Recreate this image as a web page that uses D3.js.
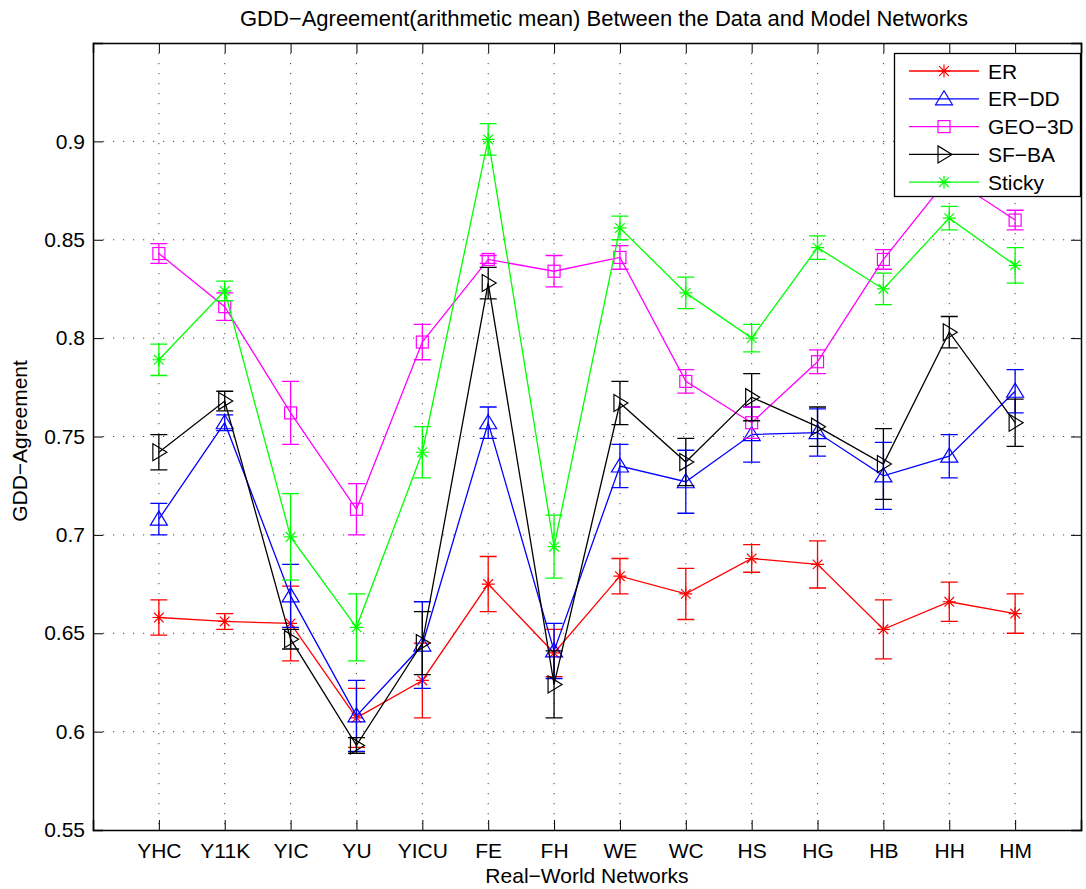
<!DOCTYPE html>
<html>
<head>
<meta charset="utf-8">
<script src="https://cdn.jsdelivr.net/npm/d3@7"></script>
<style>
  body { margin: 0; background: #fff; }
  text { font-family: "Liberation Sans", Arial, sans-serif; }
</style>
</head>
<body>
<svg id="chart" width="1086" height="889"></svg>
<script>
let networks = ["YHC", "Y11K", "YIC", "YU", "YICU", "FE", "FH", "WE", "WC", "HS", "HG", "HB", "HH", "HM"];
let yTicks = [0.55, 0.6, 0.65, 0.7, 0.75, 0.8, 0.85, 0.9];

let erMean = [0.658, 0.656, 0.655, 0.607, 0.626, 0.675, 0.640, 0.679, 0.670, 0.688, 0.685, 0.652, 0.666, 0.660];
let erErr = [0.009, 0.004, 0.019, 0.015, 0.019, 0.014, 0.012, 0.009, 0.013, 0.007, 0.012, 0.015, 0.010, 0.010];
let erddMean = [0.708, 0.757, 0.669, 0.608, 0.644, 0.757, 0.641, 0.735, 0.727, 0.751, 0.752, 0.730, 0.740, 0.773];
let erddErr = [0.008, 0.004, 0.016, 0.018, 0.022, 0.008, 0.014, 0.011, 0.016, 0.014, 0.012, 0.017, 0.011, 0.011];
let geoMean = [0.843, 0.816, 0.762, 0.713, 0.798, 0.840, 0.834, 0.841, 0.778, 0.757, 0.788, 0.840, 0.882, 0.860];
let geoErr = [0.005, 0.007, 0.016, 0.013, 0.009, 0.002, 0.008, 0.006, 0.006, 0.008, 0.006, 0.005, 0.005, 0.005];
let sfbaMean = [0.742, 0.768, 0.647, 0.593, 0.645, 0.828, 0.624, 0.767, 0.737, 0.770, 0.755, 0.736, 0.803, 0.757];
let sfbaErr = [0.009, 0.005, 0.005, 0.004, 0.016, 0.008, 0.017, 0.011, 0.012, 0.012, 0.010, 0.018, 0.008, 0.012];
let stickyMean = [0.789, 0.824, 0.699, 0.653, 0.742, 0.901, 0.694, 0.856, 0.823, 0.800, 0.846, 0.825, 0.861, 0.837];
let stickyErr = [0.008, 0.005, 0.022, 0.017, 0.013, 0.008, 0.016, 0.006, 0.008, 0.007, 0.006, 0.008, 0.006, 0.009];

let series = [
    { name: "ER", mean: erMean, err: erErr, color: "#ff0000", marker: "star" },
    { name: "ER\u2212DD", mean: erddMean, err: erddErr, color: "#0000ff", marker: "tri-up" },
    { name: "GEO\u22123D", mean: geoMean, err: geoErr, color: "#ff00ff", marker: "square" },
    { name: "SF\u2212BA", mean: sfbaMean, err: sfbaErr, color: "#000000", marker: "tri-right" },
    { name: "Sticky", mean: stickyMean, err: stickyErr, color: "#00ff00", marker: "star" }
];

const pLeft = 93, pRight = 1081, pTop = 43, pBottom = 830;
let svg = d3.select("#chart");

let xscale = d3.scaleLinear().domain([0, networks.length + 1]).range([pLeft, pRight]);
let yscale = d3.scaleLinear().domain([0.55, 0.95]).range([pBottom, pTop]);
let xTickVals = d3.range(0, networks.length + 2);

// dotted grid
let grid = svg.append("g").attr("class", "grid");
grid.selectAll(".gx").data(xTickVals.slice(1, -1)).enter().append("line")
    .attr("x1", d => xscale(d)).attr("x2", d => xscale(d))
    .attr("y1", pTop).attr("y2", pBottom)
    .attr("stroke", "#444").attr("stroke-width", 1).attr("stroke-dasharray", "1.2,8.8");
grid.selectAll(".gy").data(yTicks.slice(1)).enter().append("line")
    .attr("x1", pLeft).attr("x2", pRight)
    .attr("y1", d => yscale(d)).attr("y2", d => yscale(d))
    .attr("stroke", "#444").attr("stroke-width", 1).attr("stroke-dasharray", "1.2,8.8");

// axes (ticks inward, on all four sides)
let yAxis = d3.axisLeft(yscale).tickValues(yTicks).tickSize(-10).tickPadding(8).tickFormat(d => String(+d.toFixed(2)));
let yAxisR = d3.axisRight(yscale).tickValues(yTicks).tickSize(-10).tickFormat("");
let xAxis = d3.axisBottom(xscale).tickValues(xTickVals).tickSize(-10).tickPadding(13)
    .tickFormat(d => networks[d - 1] || "");
let xAxisT = d3.axisTop(xscale).tickValues(xTickVals).tickSize(-10).tickFormat("");

const gy = svg.append("g").attr("transform", `translate(${pLeft},0)`).call(yAxis);
const gyr = svg.append("g").attr("transform", `translate(${pRight},0)`).call(yAxisR);
const gx = svg.append("g").attr("transform", `translate(0,${pBottom})`).call(xAxis);
const gxt = svg.append("g").attr("transform", `translate(0,${pTop})`).call(xAxisT);
[gy, gyr, gx, gxt].forEach(g => {
    g.select(".domain").attr("stroke", "#000").attr("stroke-width", 1.5);
    g.selectAll(".tick line").attr("stroke", "#000");
    g.selectAll("text").attr("fill", "#000").style("font-size", "21px")
        .style("font-family", "'Liberation Sans', Arial, sans-serif");
});

function drawMarker(g, type, x, y, color) {
    if (type == "star") {
        let r = 6.5, q = 4.8;
        g.append("path")
            .attr("d", `M${x - r},${y}L${x + r},${y}M${x},${y - r}L${x},${y + r}M${x - q},${y - q}L${x + q},${y + q}M${x - q},${y + q}L${x + q},${y - q}`)
            .attr("stroke", color).attr("stroke-width", 1.2).attr("fill", "none");
    } else if (type == "tri-up") {
        g.append("path").attr("d", `M${x},${y - 8}L${x + 8.5},${y + 6}L${x - 8.5},${y + 6}Z`)
            .attr("stroke", color).attr("stroke-width", 1.2).attr("fill", "none");
    } else if (type == "tri-right") {
        g.append("path").attr("d", `M${x + 8},${y}L${x - 6},${y + 8.5}L${x - 6},${y - 8.5}Z`)
            .attr("stroke", color).attr("stroke-width", 1.2).attr("fill", "none");
    } else {
        g.append("rect").attr("x", x - 6).attr("y", y - 6).attr("width", 12).attr("height", 12)
            .attr("stroke", color).attr("stroke-width", 1.2).attr("fill", "none");
    }
}

let line = d3.line().x((d, i) => xscale(i + 1)).y(d => yscale(d));

series.forEach(s => {
    let g = svg.append("g");
    g.append("path").datum(s.mean).attr("d", line)
        .attr("fill", "none").attr("stroke", s.color).attr("stroke-width", 1.3);
    s.mean.forEach((m, i) => {
        let x = xscale(i + 1), lo = yscale(m - s.err[i]), hi = yscale(m + s.err[i]);
        g.append("path")
            .attr("d", `M${x},${lo}L${x},${hi}M${x - 8.5},${lo}L${x + 8.5},${lo}M${x - 8.5},${hi}L${x + 8.5},${hi}`)
            .attr("stroke", s.color).attr("stroke-width", 1.3).attr("fill", "none");
        drawMarker(g, s.marker, x, yscale(m), s.color);
    });
});

// legend
let lg = svg.append("g");
lg.append("rect").attr("x", 894.5).attr("y", 53.5).attr("width", 186).attr("height", 143)
    .attr("fill", "#fff").attr("stroke", "#000").attr("stroke-width", 1.3);
series.forEach((s, i) => {
    let y = 71 + i * 27.8;
    lg.append("line").attr("x1", 909).attr("x2", 979).attr("y1", y).attr("y2", y)
        .attr("stroke", s.color).attr("stroke-width", 1.3);
    drawMarker(lg, s.marker, 944, y, s.color);
    lg.append("text").attr("x", 988).attr("y", y + 7.5).text(s.name)
        .style("font-size", "21px").attr("fill", "#000");
});

svg.append("text").attr("x", 604).attr("y", 26).attr("text-anchor", "middle")
    .style("font-size", "22px").text("GDD\u2212Agreement(arithmetic mean) Between the Data and Model Networks");
svg.append("text").attr("x", 587).attr("y", 883).attr("text-anchor", "middle")
    .style("font-size", "21px").text("Real\u2212World Networks");
svg.append("text").attr("transform", "translate(27,441) rotate(-90)").attr("text-anchor", "middle")
    .style("font-size", "21px").text("GDD\u2212Agreement");
</script>
</body>
</html>
